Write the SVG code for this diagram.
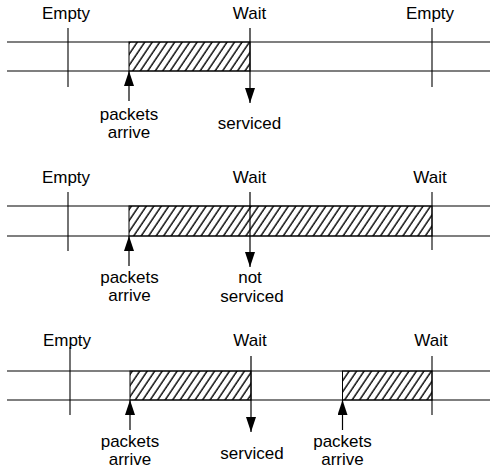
<svg xmlns="http://www.w3.org/2000/svg" width="490" height="469" viewBox="0 0 490 469">
  <style>
    .rail { stroke: #000; stroke-width: 1.1; fill: none; }
    .tick { stroke: #000; stroke-width: 1.1; fill: none; }
    .busy { fill: url(#hatch); stroke: #000; stroke-width: 1; }
    .arrow { stroke: #000; stroke-width: 1.2; fill: none; marker-end: url(#head); }
    text { font-family: "Liberation Sans", Arial, sans-serif; font-size: 17px; fill: #000; text-anchor: middle; }
  </style>
  <defs>
    <pattern id="hatch" patternUnits="userSpaceOnUse" width="6.2" height="20" patternTransform="rotate(34)">
      <rect width="6.2" height="20" fill="#fff"/>
      <line x1="1" y1="0" x2="1" y2="20" stroke="#000" stroke-width="1.4"/>
    </pattern>
    <marker id="head" markerUnits="userSpaceOnUse" markerWidth="15" markerHeight="10" refX="15" refY="5" orient="auto">
      <path d="M0,0 L15,5 L0,10 z" fill="#000"/>
    </marker>
  </defs>

  <rect width="490" height="469" fill="#fff"/>

  <!-- Case 1: queue filled, then serviced -->
  <g id="case1">
    <rect class="busy" x="129" y="42" width="121" height="29"/>
    <line class="rail" x1="7" y1="42" x2="490" y2="42"/>
    <line class="rail" x1="7" y1="71" x2="490" y2="71"/>
    <line class="tick" x1="68" y1="28" x2="68" y2="87"/>
    <line class="tick" x1="432" y1="28" x2="432" y2="87"/>
    <text x="66" y="19">Empty</text>
    <text x="249.5" y="19">Wait</text>
    <text x="430" y="19">Empty</text>
    <text x="129" y="120">packets</text>
    <text x="129" y="138">arrive</text>
    <text x="249.5" y="129">serviced</text>
  </g>

  <!-- Case 2: queue filled, not serviced -->
  <g id="case2">
    <rect class="busy" x="129" y="206" width="303" height="30"/>
    <line class="rail" x1="7" y1="206" x2="490" y2="206"/>
    <line class="rail" x1="7" y1="236" x2="490" y2="236"/>
    <line class="tick" x1="68" y1="192" x2="68" y2="251"/>
    <line class="tick" x1="432" y1="192" x2="432" y2="250"/>
    <text x="66" y="183">Empty</text>
    <text x="249.5" y="183">Wait</text>
    <text x="430" y="183">Wait</text>
    <text x="129.5" y="283">packets</text>
    <text x="129.5" y="301">arrive</text>
    <text x="250" y="283">not</text>
    <text x="252" y="301.5">serviced</text>
  </g>

  <!-- Case 3: serviced, then new packets arrive -->
  <g id="case3">
    <rect class="busy" x="130" y="371" width="121" height="29"/>
    <rect class="busy" x="342.5" y="371" width="89.5" height="29"/>
    <line class="rail" x1="7" y1="371" x2="490" y2="371"/>
    <line class="rail" x1="7" y1="400" x2="490" y2="400"/>
    <line class="tick" x1="70" y1="347" x2="70" y2="415"/>
    <line class="tick" x1="432" y1="356" x2="432" y2="415"/>
    <text x="67" y="346">Empty</text>
    <text x="250" y="346">Wait</text>
    <text x="431" y="346">Wait</text>
    <text x="130" y="446.5">packets</text>
    <text x="130" y="464.5">arrive</text>
    <text x="252" y="459">serviced</text>
    <text x="342.5" y="446.5">packets</text>
    <text x="342.5" y="464.5">arrive</text>
  </g>

  <!-- Arrival and service arrows -->
  <g id="connectors">
    <line class="arrow" x1="129" y1="101" x2="129" y2="71"/>
    <line class="arrow" x1="250" y1="28" x2="250" y2="103"/>
    <line class="arrow" x1="129" y1="266" x2="129" y2="236"/>
    <line class="arrow" x1="250" y1="192" x2="250" y2="267"/>
    <line class="arrow" x1="130" y1="430" x2="130" y2="400"/>
    <line class="arrow" x1="342.5" y1="430" x2="342.5" y2="400"/>
    <line class="arrow" x1="251" y1="356" x2="251" y2="432"/>
  </g>
</svg>
